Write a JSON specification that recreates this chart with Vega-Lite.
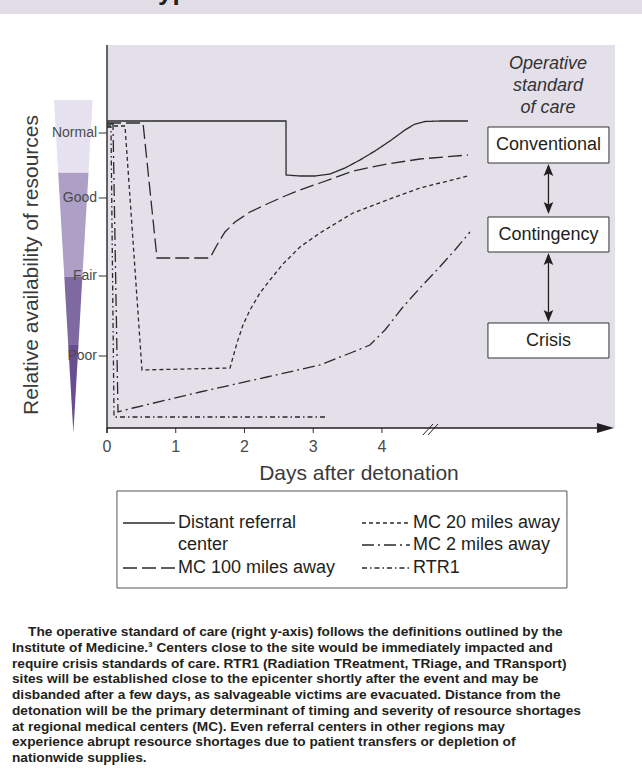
{
  "$schema": "https://vega.github.io/schema/vega-lite/v6.json",
  "width": 508,
  "height": 383,
  "autosize": {"type": "none"},
  "padding": {"left": 107, "top": 45, "right": 27, "bottom": 344},
  "background": "white",
  "config": {
    "view": {"fill": "#e3e0ea", "stroke": null},
    "font": "Liberation Sans"
  },
  "datasets": {
    "lines": [
      {"s": "Distant referral center", "i": 0, "d": 0, "v": 307},
      {"s": "Distant referral center", "i": 1, "d": 2.604, "v": 307},
      {"s": "Distant referral center", "i": 2, "d": 2.605, "v": 253},
      {"s": "Distant referral center", "i": 3, "d": 2.807, "v": 252},
      {"s": "Distant referral center", "i": 4, "d": 3.025, "v": 252},
      {"s": "Distant referral center", "i": 5, "d": 3.244, "v": 254},
      {"s": "Distant referral center", "i": 6, "d": 3.462, "v": 260},
      {"s": "Distant referral center", "i": 7, "d": 3.68, "v": 268},
      {"s": "Distant referral center", "i": 8, "d": 3.898, "v": 277},
      {"s": "Distant referral center", "i": 9, "d": 4.116, "v": 287},
      {"s": "Distant referral center", "i": 10, "d": 4.335, "v": 298},
      {"s": "Distant referral center", "i": 11, "d": 4.48, "v": 304},
      {"s": "Distant referral center", "i": 12, "d": 4.625, "v": 306.5},
      {"s": "Distant referral center", "i": 13, "d": 4.844, "v": 307},
      {"s": "Distant referral center", "i": 14, "d": 5.251, "v": 307},
      {"s": "MC 100 miles away", "i": 0, "d": 0, "v": 305},
      {"s": "MC 100 miles away", "i": 1, "d": 0.524, "v": 305},
      {"s": "MC 100 miles away", "i": 2, "d": 0.727, "v": 170},
      {"s": "MC 100 miles away", "i": 3, "d": 1.498, "v": 170},
      {"s": "MC 100 miles away", "i": 4, "d": 1.6, "v": 183},
      {"s": "MC 100 miles away", "i": 5, "d": 1.716, "v": 196},
      {"s": "MC 100 miles away", "i": 6, "d": 1.862, "v": 206},
      {"s": "MC 100 miles away", "i": 7, "d": 2.08, "v": 216},
      {"s": "MC 100 miles away", "i": 8, "d": 2.327, "v": 224},
      {"s": "MC 100 miles away", "i": 9, "d": 2.589, "v": 232},
      {"s": "MC 100 miles away", "i": 10, "d": 2.807, "v": 238},
      {"s": "MC 100 miles away", "i": 11, "d": 3.098, "v": 245},
      {"s": "MC 100 miles away", "i": 12, "d": 3.578, "v": 257},
      {"s": "MC 100 miles away", "i": 13, "d": 4.073, "v": 264},
      {"s": "MC 100 miles away", "i": 14, "d": 4.553, "v": 269},
      {"s": "MC 100 miles away", "i": 15, "d": 5.251, "v": 273},
      {"s": "MC 20 miles away", "i": 0, "d": 0, "v": 302},
      {"s": "MC 20 miles away", "i": 1, "d": 0.262, "v": 302},
      {"s": "MC 20 miles away", "i": 2, "d": 0.509, "v": 58},
      {"s": "MC 20 miles away", "i": 3, "d": 1.789, "v": 60},
      {"s": "MC 20 miles away", "i": 4, "d": 1.891, "v": 85},
      {"s": "MC 20 miles away", "i": 5, "d": 1.978, "v": 103},
      {"s": "MC 20 miles away", "i": 6, "d": 2.08, "v": 118},
      {"s": "MC 20 miles away", "i": 7, "d": 2.225, "v": 135},
      {"s": "MC 20 miles away", "i": 8, "d": 2.371, "v": 148},
      {"s": "MC 20 miles away", "i": 9, "d": 2.56, "v": 164},
      {"s": "MC 20 miles away", "i": 10, "d": 2.807, "v": 181},
      {"s": "MC 20 miles away", "i": 11, "d": 3.098, "v": 195},
      {"s": "MC 20 miles away", "i": 12, "d": 3.578, "v": 215},
      {"s": "MC 20 miles away", "i": 13, "d": 4.073, "v": 228},
      {"s": "MC 20 miles away", "i": 14, "d": 4.553, "v": 240},
      {"s": "MC 20 miles away", "i": 15, "d": 5.251, "v": 252},
      {"s": "MC 2 miles away", "i": 0, "d": 0, "v": 304},
      {"s": "MC 2 miles away", "i": 1, "d": 0.087, "v": 304},
      {"s": "MC 2 miles away", "i": 2, "d": 0.16, "v": 16},
      {"s": "MC 2 miles away", "i": 3, "d": 0.378, "v": 20},
      {"s": "MC 2 miles away", "i": 4, "d": 1.353, "v": 36},
      {"s": "MC 2 miles away", "i": 5, "d": 2.327, "v": 51},
      {"s": "MC 2 miles away", "i": 6, "d": 3.098, "v": 63},
      {"s": "MC 2 miles away", "i": 7, "d": 3.578, "v": 76},
      {"s": "MC 2 miles away", "i": 8, "d": 3.825, "v": 83},
      {"s": "MC 2 miles away", "i": 9, "d": 4.044, "v": 98},
      {"s": "MC 2 miles away", "i": 10, "d": 4.305, "v": 121},
      {"s": "MC 2 miles away", "i": 11, "d": 4.553, "v": 140},
      {"s": "MC 2 miles away", "i": 12, "d": 4.8, "v": 158},
      {"s": "MC 2 miles away", "i": 13, "d": 5.062, "v": 178},
      {"s": "MC 2 miles away", "i": 14, "d": 5.28, "v": 196},
      {"s": "RTR1", "i": 0, "d": 0, "v": 301},
      {"s": "RTR1", "i": 1, "d": 0.058, "v": 301},
      {"s": "RTR1", "i": 2, "d": 0.102, "v": 11},
      {"s": "RTR1", "i": 3, "d": 3.2, "v": 11}
    ],
    "wedge": [
      {"band": "Normal", "v": 328, "d": -0.771, "d2": -0.208},
      {"band": "Normal", "v": 255.3, "d": -0.71, "d2": -0.269},
      {"band": "Good", "v": 255.3, "d": -0.71, "d2": -0.269},
      {"band": "Good", "v": 151.3, "d": -0.621, "d2": -0.358},
      {"band": "Fair", "v": 151.3, "d": -0.621, "d2": -0.358},
      {"band": "Fair", "v": 83, "d": -0.564, "d2": -0.415},
      {"band": "Poor", "v": 83, "d": -0.564, "d2": -0.415},
      {"band": "Poor", "v": -5, "d": -0.489, "d2": -0.489}
    ],
    "header": [
      {"d": -1.6, "d2": 7.8, "v": 428, "v2": 414}
    ],
    "headerText": [
      {"t": "Types", "d": 0.538, "v": 428.5}
    ],
    "yDomain": [
      {"d": 0, "v": 383, "v2": -5}
    ],
    "xTicks": [
      {"d": 0, "v": 0, "v2": -5},
      {"d": 1, "v": 0, "v2": -5},
      {"d": 2, "v": 0, "v2": -5},
      {"d": 3, "v": 0, "v2": -5},
      {"d": 4, "v": 0, "v2": -5}
    ],
    "xLabels": [
      {"d": 0, "v": -19, "t": "0"},
      {"d": 1, "v": -19, "t": "1"},
      {"d": 2, "v": -19, "t": "2"},
      {"d": 3, "v": -19, "t": "3"},
      {"d": 4, "v": -19, "t": "4"}
    ],
    "xTitle": [
      {"d": 3.665, "v": -46, "t": "Days after detonation"}
    ],
    "yTicks": [
      {"d": -0.12, "d2": 0, "v": 295},
      {"d": -0.12, "d2": 0, "v": 230},
      {"d": -0.12, "d2": 0, "v": 152},
      {"d": -0.12, "d2": 0, "v": 72}
    ],
    "yLabels": [
      {"d": -0.145, "v": 295, "t": "Normal"},
      {"d": -0.145, "v": 230, "t": "Good"},
      {"d": -0.145, "v": 152, "t": "Fair"},
      {"d": -0.145, "v": 72, "t": "Poor"}
    ],
    "yTitle": [
      {"d": -1.091, "v": 163, "t": "Relative availability of resources"}
    ],
    "axisLine": [
      {"d": 0, "d2": 7.2, "v": 0}
    ],
    "axisArrow": [
      {"d": 7.251, "v": 0}
    ],
    "breakMarks": [
      {"d": 4.596, "d2": 4.742, "v": -7, "v2": 4},
      {"d": 4.669, "d2": 4.815, "v": -7, "v2": 4}
    ],
    "operative": [
      {"t": "Operative", "d": 6.415, "v": 364},
      {"t": "standard", "d": 6.415, "v": 342},
      {"t": "of care", "d": 6.415, "v": 320}
    ],
    "boxes": [
      {"t": "Conventional", "d": 5.542, "d2": 7.302, "v": 301, "v2": 265},
      {"t": "Contingency", "d": 5.542, "d2": 7.302, "v": 211, "v2": 176},
      {"t": "Crisis", "d": 5.542, "d2": 7.302, "v": 105, "v2": 70}
    ],
    "boxLabels": [
      {"t": "Conventional", "d": 6.422, "v": 283},
      {"t": "Contingency", "d": 6.422, "v": 193.5},
      {"t": "Crisis", "d": 6.422, "v": 87.5}
    ],
    "shafts": [
      {"d": 6.422, "v": 262, "v2": 216},
      {"d": 6.422, "v": 173, "v2": 108}
    ],
    "upHeads": [
      {"d": 6.422, "v": 258},
      {"d": 6.422, "v": 169}
    ],
    "downHeads": [
      {"d": 6.422, "v": 220},
      {"d": 6.422, "v": 112}
    ],
    "legendBox": [
      {"d": 0.145, "d2": 6.691, "v": -63, "v2": -160}
    ],
    "legendSamples": [
      {"s": "Distant referral center", "d": 0.233, "d2": 0.989, "v": -95},
      {"s": "MC 100 miles away", "d": 0.233, "d2": 0.989, "v": -140},
      {"s": "MC 20 miles away", "d": 3.709, "d2": 4.407, "v": -95},
      {"s": "MC 2 miles away", "d": 3.709, "d2": 4.407, "v": -117},
      {"s": "RTR1", "d": 3.709, "d2": 4.407, "v": -140}
    ],
    "legendText": [
      {"t": "Distant referral", "d": 1.033, "v": -95},
      {"t": "center", "d": 1.033, "v": -117},
      {"t": "MC 100 miles away", "d": 1.033, "v": -140},
      {"t": "MC 20 miles away", "d": 4.451, "v": -95},
      {"t": "MC 2 miles away", "d": 4.451, "v": -117},
      {"t": "RTR1", "d": 4.451, "v": -140}
    ],
    "caption": [
      {"t": "The operative standard of care (right y-axis) follows the definitions outlined by the", "d": -1.149, "v": -204},
      {"t": "Institute of Medicine.³ Centers close to the site would be immediately impacted and", "d": -1.382, "v": -219.75},
      {"t": "require crisis standards of care. RTR1 (Radiation TReatment, TRiage, and TRansport)", "d": -1.382, "v": -235.5},
      {"t": "sites will be established close to the epicenter shortly after the event and may be", "d": -1.382, "v": -251.25},
      {"t": "disbanded after a few days, as salvageable victims are evacuated. Distance from the", "d": -1.382, "v": -267},
      {"t": "detonation will be the primary determinant of timing and severity of resource shortages", "d": -1.382, "v": -282.75},
      {"t": "at regional medical centers (MC). Even referral centers in other regions may", "d": -1.382, "v": -298.5},
      {"t": "experience abrupt resource shortages due to patient transfers or depletion of", "d": -1.382, "v": -314.25},
      {"t": "nationwide supplies.", "d": -1.382, "v": -330}
    ]
  },
  "encoding": {
    "x": {"field": "d", "type": "quantitative", "scale": {"domain": [0, 7.39], "nice": false, "zero": false}, "axis": null},
    "y": {"field": "v", "type": "quantitative", "scale": {"domain": [0, 383], "nice": false, "zero": false}, "axis": null}
  },
  "layer": [
    {
      "data": {"name": "header"},
      "mark": {"type": "rect", "color": "#e2dee8"},
      "encoding": {"x2": {"field": "d2"}, "y2": {"field": "v2"}}
    },
    {
      "data": {"name": "headerText"},
      "mark": {"type": "text", "align": "left", "baseline": "alphabetic", "fontSize": 26, "fontWeight": "bold", "color": "#231f20"},
      "encoding": {"text": {"field": "t"}}
    },
    {
      "data": {"name": "wedge"},
      "mark": {"type": "area", "orient": "horizontal", "interpolate": "linear"},
      "encoding": {
        "x2": {"field": "d2"},
        "color": {
          "field": "band",
          "type": "nominal",
          "scale": {"domain": ["Normal", "Good", "Fair", "Poor"], "range": ["#e6e2ef", "#ad9fc6", "#7e69a0", "#6a4d91"]},
          "legend": null
        }
      }
    },
    {
      "data": {"name": "lines"},
      "mark": {"type": "line", "color": "#2a2a2a", "strokeWidth": 1.3},
      "encoding": {
        "order": {"field": "i", "type": "quantitative"},
        "strokeDash": {
          "field": "s",
          "type": "nominal",
          "scale": {
            "domain": ["Distant referral center", "MC 100 miles away", "MC 20 miles away", "MC 2 miles away", "RTR1"],
            "range": [[1, 0], [14, 5], [4, 3], [12, 4, 2, 4], [5, 3, 1.5, 3]]
          },
          "legend": null
        }
      }
    },
    {
      "data": {"name": "yDomain"},
      "mark": {"type": "rule", "color": "#333333", "strokeWidth": 1.5},
      "encoding": {"y2": {"field": "v2"}}
    },
    {
      "data": {"name": "yTicks"},
      "mark": {"type": "rule", "color": "#333333", "strokeWidth": 1},
      "encoding": {"x2": {"field": "d2"}}
    },
    {
      "data": {"name": "yLabels"},
      "mark": {"type": "text", "align": "right", "baseline": "middle", "fontSize": 14, "color": "#4a4a4a"},
      "encoding": {"text": {"field": "t"}}
    },
    {
      "data": {"name": "yTitle"},
      "mark": {"type": "text", "align": "center", "baseline": "middle", "angle": 270, "fontSize": 21, "color": "#3a3a3a"},
      "encoding": {"text": {"field": "t"}}
    },
    {
      "data": {"name": "xTicks"},
      "mark": {"type": "rule", "color": "#333333", "strokeWidth": 1},
      "encoding": {"y2": {"field": "v2"}}
    },
    {
      "data": {"name": "xLabels"},
      "mark": {"type": "text", "align": "center", "baseline": "middle", "fontSize": 16, "color": "#4a4a4a"},
      "encoding": {"text": {"field": "t"}}
    },
    {
      "data": {"name": "xTitle"},
      "mark": {"type": "text", "align": "center", "baseline": "middle", "fontSize": 21, "color": "#3a3a3a"},
      "encoding": {"text": {"field": "t"}}
    },
    {
      "data": {"name": "axisLine"},
      "mark": {"type": "rule", "color": "#231f20", "strokeWidth": 1.5},
      "encoding": {"x2": {"field": "d2"}}
    },
    {
      "data": {"name": "axisArrow"},
      "mark": {"type": "point", "shape": "M-1,-0.6L1,0L-1,0.6Z", "filled": true, "size": 289, "color": "#231f20", "opacity": 1, "strokeWidth": 0}
    },
    {
      "data": {"name": "breakMarks"},
      "mark": {"type": "rule", "color": "#231f20", "strokeWidth": 1},
      "encoding": {"x2": {"field": "d2"}, "y2": {"field": "v2"}}
    },
    {
      "data": {"name": "operative"},
      "mark": {"type": "text", "align": "center", "baseline": "middle", "fontSize": 18, "fontStyle": "italic", "color": "#333333"},
      "encoding": {"text": {"field": "t"}}
    },
    {
      "data": {"name": "boxes"},
      "mark": {"type": "rect", "fill": "white", "stroke": "#333333", "strokeWidth": 1},
      "encoding": {"x2": {"field": "d2"}, "y2": {"field": "v2"}}
    },
    {
      "data": {"name": "boxLabels"},
      "mark": {"type": "text", "align": "center", "baseline": "middle", "fontSize": 18, "color": "#231f20"},
      "encoding": {"text": {"field": "t"}}
    },
    {
      "data": {"name": "shafts"},
      "mark": {"type": "rule", "color": "#231f20", "strokeWidth": 1.3},
      "encoding": {"y2": {"field": "v2"}}
    },
    {
      "data": {"name": "upHeads"},
      "mark": {"type": "point", "shape": "M0,-1L0.8,1L0,0.6L-0.8,1Z", "filled": true, "size": 144, "color": "#231f20", "opacity": 1, "strokeWidth": 0}
    },
    {
      "data": {"name": "downHeads"},
      "mark": {"type": "point", "shape": "M0,1L0.8,-1L0,-0.6L-0.8,-1Z", "filled": true, "size": 144, "color": "#231f20", "opacity": 1, "strokeWidth": 0}
    },
    {
      "data": {"name": "legendBox"},
      "mark": {"type": "rect", "fill": "white", "stroke": "#555555", "strokeWidth": 1},
      "encoding": {"x2": {"field": "d2"}, "y2": {"field": "v2"}}
    },
    {
      "data": {"name": "legendSamples"},
      "mark": {"type": "rule", "color": "#2a2a2a", "strokeWidth": 1.3},
      "encoding": {
        "x2": {"field": "d2"},
        "strokeDash": {"field": "s", "type": "nominal", "legend": null}
      }
    },
    {
      "data": {"name": "legendText"},
      "mark": {"type": "text", "align": "left", "baseline": "middle", "fontSize": 18, "color": "#231f20"},
      "encoding": {"text": {"field": "t"}}
    },
    {
      "data": {"name": "caption"},
      "mark": {"type": "text", "align": "left", "baseline": "middle", "fontSize": 13.7, "fontWeight": "bold", "font": "Liberation Sans", "color": "#231f20"},
      "encoding": {"text": {"field": "t"}}
    }
  ]
}
